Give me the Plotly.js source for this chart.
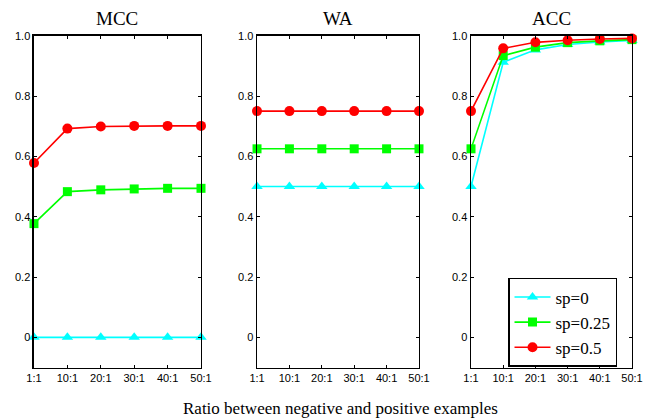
<!DOCTYPE html>
<html><head><meta charset="utf-8">
<script src="https://cdn.plot.ly/plotly-3.0.1.min.js"></script>
<style>html,body{margin:0;padding:0;background:#fff}#chart{width:656px;height:418px}</style>
</head><body><div id="chart"></div>
<script>
const ratios = ["1:1","10:1","20:1","30:1","40:1","50:1"];
const panelTitles = ["MCC","WA","ACC"];
const seriesNames = ["sp=0","sp=0.25","sp=0.5"];
const mcc_sp0   = [0, 0, 0, 0, 0, 0];
const mcc_sp025 = [0.377, 0.483, 0.489, 0.492, 0.494, 0.494];
const mcc_sp05  = [0.578, 0.692, 0.699, 0.701, 0.701, 0.701];
const wa_sp0    = [0.5, 0.5, 0.5, 0.5, 0.5, 0.5];
const wa_sp025  = [0.625, 0.625, 0.625, 0.625, 0.625, 0.625];
const wa_sp05   = [0.75, 0.75, 0.75, 0.75, 0.75, 0.75];
const acc_sp0   = [0.5, 0.912, 0.953, 0.971, 0.979, 0.984];
const acc_sp025 = [0.625, 0.934, 0.962, 0.977, 0.983, 0.987];
const acc_sp05  = [0.75, 0.958, 0.978, 0.985, 0.989, 0.991];
const yTickVals = [0, 0.2, 0.4, 0.6, 0.8, 1.0];
const yTickText = ["0","0.2","0.4","0.6","0.8","1.0"];

const SERIF = "'Liberation Serif', 'Times New Roman', serif";
const SANS = "'Liberation Sans', Arial, sans-serif";
const colors = ["#00FFFF","#00FF00","#FF0000"];
const symbols = ["triangle-up","square","circle"];
const msizes = [10, 9, 10];
const panels = [[mcc_sp0,mcc_sp025,mcc_sp05],[wa_sp0,wa_sp025,wa_sp05],[acc_sp0,acc_sp025,acc_sp05]];
const xdom = [[0.0518,0.3064],[0.3918,0.6387],[0.718,0.9634]];
const ydom = [0.1208, 0.9146];

const traces = [];
panels.forEach((p, pi) => {
  p.forEach((vals, si) => {
    traces.push({
      x: ratios, y: vals, type: "scatter", mode: "lines+markers",
      name: seriesNames[si],
      xaxis: pi === 0 ? "x" : "x" + (pi + 1),
      yaxis: pi === 0 ? "y" : "y" + (pi + 1),
      line: {color: colors[si], width: 1.6},
      marker: {color: colors[si], symbol: symbols[si], size: msizes[si], line: {width: 0}},
      cliponaxis: false,
      showlegend: pi === 2
    });
  });
});

const layout = {
  width: 656, height: 418,
  margin: {l: 0, r: 0, t: 0, b: 0},
  paper_bgcolor: "#fff", plot_bgcolor: "#fff",
  font: {family: SANS, size: 11, color: "#000"},
  showlegend: true,
  legend: {
    x: 0.7744, y: 0.335, xanchor: "left", yanchor: "top",
    bgcolor: "#fff", bordercolor: "#000", borderwidth: 1.5,
    font: {family: SERIF, size: 17, color: "#000"},
    tracegroupgap: 0, itemwidth: 36
  },
  annotations: [],
};
for (let i = 0; i < 3; i++) {
  const sx = i === 0 ? "" : String(i + 1);
  layout["xaxis" + sx] = {
    domain: xdom[i], anchor: "y" + sx, type: "category",
    categoryorder: "array", categoryarray: ratios,
    range: [0, 5], showgrid: false, zeroline: false,
    showline: true, linecolor: "#000", linewidth: 1.5, mirror: "ticks",
    ticks: "inside", ticklen: 3, tickcolor: "#000", tickwidth: 1,
    tickfont: {size: 11, family: SANS},
    fixedrange: true
  };
  layout["yaxis" + sx] = {
    domain: ydom, anchor: "x" + sx, range: [-0.1, 1.0],
    tickvals: yTickVals, ticktext: yTickText,
    showgrid: false, zeroline: false,
    showline: true, linecolor: "#000", linewidth: 1.5, mirror: "ticks",
    ticks: "inside", ticklen: 3, tickcolor: "#000", tickwidth: 1,
    tickfont: {size: 11, family: SANS},
    fixedrange: true
  };
  layout.annotations.push({
    text: panelTitles[i], xref: "paper", yref: "paper",
    x: (xdom[i][0] + xdom[i][1]) / 2, y: 1 - 18 / 418,
    xanchor: "center", yanchor: "middle", showarrow: false,
    font: {family: SERIF, size: 19, color: "#000"}
  });
}
layout.annotations.push({
  text: "Ratio between negative and positive examples", xref: "paper", yref: "paper",
  x: 340 / 656, y: 1 - 408 / 418, xanchor: "center", yanchor: "middle", showarrow: false,
  font: {family: SERIF, size: 17, color: "#000"}
});

Plotly.newPlot("chart", traces, layout, {displayModeBar: false, staticPlot: true});
</script></body></html>
